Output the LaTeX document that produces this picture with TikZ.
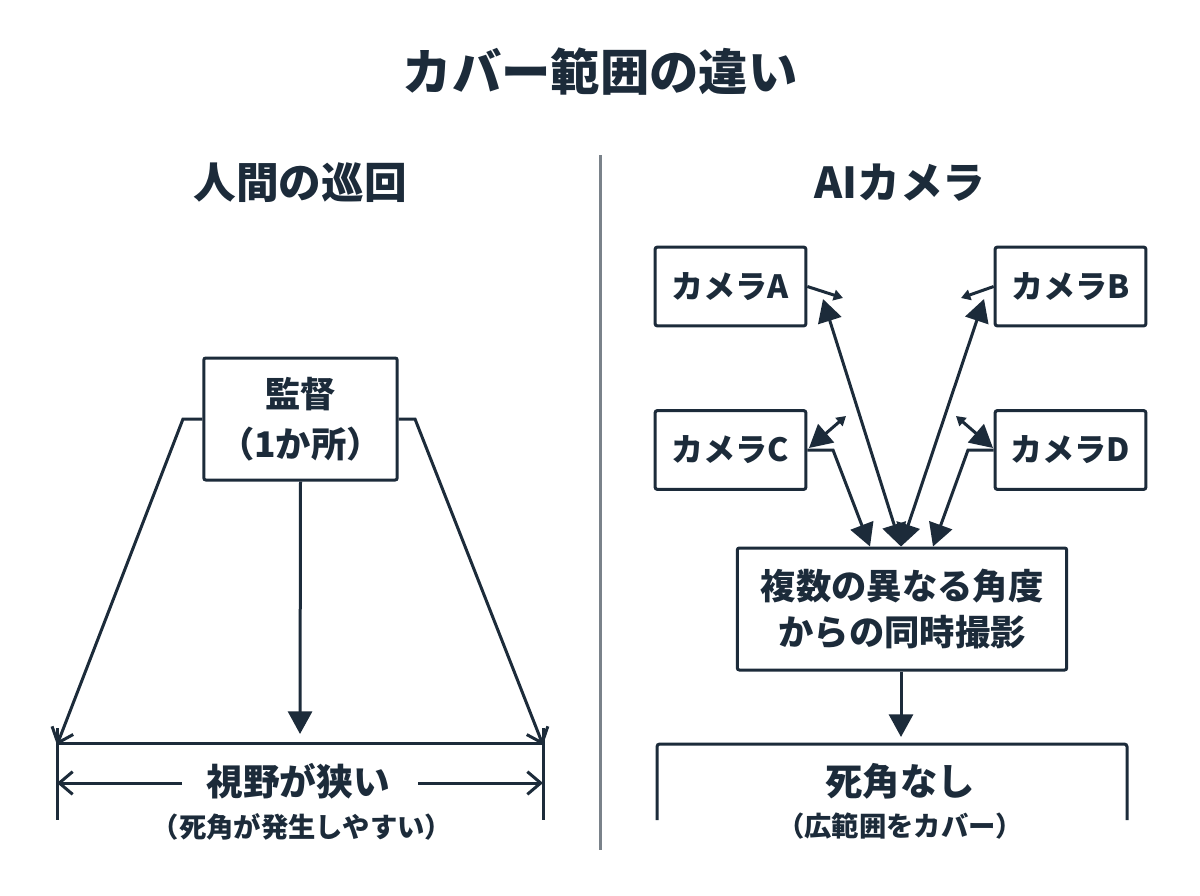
\documentclass[tikz,border=0pt]{standalone}
\usepackage{fontspec}
\setmainfont{Noto Sans CJK JP}
\usetikzlibrary{arrows.meta}
\definecolor{ink}{RGB}{28,43,58}
\definecolor{divider}{RGB}{122,130,138}
\tikzset{
  bigtip/.tip={Triangle[length=17pt,width=18pt]},
  smalltip/.tip={Triangle[length=7pt,width=8pt]},
  barbtip/.tip={Straight Barb[length=10pt,width=17pt,line width=2.25pt]},
  box/.style={draw=ink, line width=2.25pt, rounded corners=1.5pt, fill=white,
    inner sep=0pt, align=center, text=ink},
  cam/.style={box, minimum width=113pt, minimum height=59pt,
    font=\bfseries\fontsize{24}{30}\selectfont},
  lab/.style={text=ink, inner sep=0pt, align=center},
  conn/.style={draw=ink, line width=2.25pt},
}
\begin{document}
\begin{tikzpicture}[x=0.75pt,y=-0.75pt]
\useasboundingbox (0,0) rectangle (1200,896);
\fill[white] (0,0) rectangle (1200,896);

% title and headers
\node[lab, font=\bfseries\fontsize{37}{44}\selectfont] (title) at (600,72) {カバー範囲の違い};
\node[lab, font=\bfseries\fontsize{32}{38}\selectfont] (hleft) at (300,183) {人間の巡回};
\node[lab, font=\bfseries\fontsize{32}{38}\selectfont] (hright) at (900,183) {AIカメラ};

% divider
\coordinate (dtop) at (600,155);
\coordinate (dbot) at (600,850);
\draw[draw=divider, line width=2.25pt] (dtop) -- (dbot);

% ---------- left side ----------
\node[box, minimum width=145pt, minimum height=91.5pt,
  font=\bfseries\fontsize{26.5}{37.5}\selectfont] (sup) at (300.5,419) {監督\\（1か所）};

\coordinate (lstub) at (183,419);
\coordinate (rstub) at (415,419);
\coordinate (lend) at (57,745);
\coordinate (rend) at (543,745);
\draw[conn, -barbtip] (sup.west) -- (lstub) -- (lend);
\draw[conn, -barbtip] (sup.east) -- (rstub) -- (rend);

\coordinate (ctip) at (300,734);
\draw[conn, -bigtip] (sup.south) -- (ctip);

\coordinate (blt) at (57,728);
\coordinate (blb) at (57,820);
\coordinate (brt) at (543,728);
\coordinate (brb) at (543,820);
\coordinate (bl) at (57,743);
\coordinate (br) at (543,743);
\draw[conn] (bl) -- (br);
\draw[conn] (blt) -- (blb);
\draw[conn] (brt) -- (brb);

\node[lab, font=\bfseries\fontsize{27.5}{32}\selectfont] (narrow) at (298,781) {視野が狭い};
\coordinate (nla) at (182,783);
\coordinate (nlb) at (57,783);
\coordinate (nra) at (418,783);
\coordinate (nrb) at (543,783);
\draw[conn, -barbtip] (nla) -- (nlb);
\draw[conn, -barbtip] (nra) -- (nrb);
\node[lab, font=\bfseries\fontsize{20.5}{24}\selectfont] (narrowsub) at (302,827) {（死角が発生しやすい）};

% ---------- right side ----------
\node[cam] (cA) at (730.5,286.5) {カメラA};
\node[cam] (cB) at (1070.5,286.5) {カメラB};
\node[cam] (cC) at (730.5,450) {カメラC};
\node[cam] (cD) at (1070.5,450) {カメラD};
\node[box, minimum width=247pt, minimum height=91.5pt,
  font=\bfseries\fontsize{26.5}{34.5}\selectfont] (multi) at (902,609) {複数の異なる角度\\からの同時撮影};

% small side arrows
\coordinate (aS) at (843,298);
\coordinate (bS) at (961,298);
\draw[conn, -smalltip] (cA.east) -- (aS);
\draw[conn, -smalltip] (cB.west) -- (bS);

% long arrows from A and B
\coordinate (aT) at (823,299);
\coordinate (bT) at (984,299);
\draw[conn, bigtip-bigtip] (aT) -- ([xshift=-0.75pt]multi.north);
\draw[conn, bigtip-bigtip] (bT) -- ([xshift=-0.75pt]multi.north);

% C and D
\coordinate (cstub) at (833,450);
\coordinate (dstub) at (968,450);
\draw[conn, -bigtip] (cC.east) -- (cstub) -- ([xshift=-24pt]multi.north);
\draw[conn, -bigtip] (cD.west) -- (dstub) -- ([xshift=23.25pt]multi.north);

\coordinate (cbig) at (809,448);
\coordinate (csmall) at (846,416);
\coordinate (dbig) at (993,448);
\coordinate (dsmall) at (956,416);
\draw[conn, bigtip-smalltip] (cbig) -- (csmall);
\draw[conn, bigtip-smalltip] (dbig) -- (dsmall);

% result
\coordinate (mtip) at (901,737);
\draw[conn, -bigtip] ([xshift=-0.75pt]multi.south) -- (mtip);

\coordinate (rbl) at (657,820);
\coordinate (rbtl) at (657,744);
\coordinate (rbtr) at (1127,744);
\coordinate (rbr) at (1127,820);
\draw[conn, rounded corners=2pt] (rbl) -- (rbtl) -- (rbtr) -- (rbr);

\node[lab, font=\bfseries\fontsize{28}{32}\selectfont] (noblind) at (900,781) {死角なし};
\node[lab, font=\bfseries\fontsize{20.5}{24}\selectfont] (noblindsub) at (900,826) {（広範囲をカバー）};
\end{tikzpicture}
\end{document}
